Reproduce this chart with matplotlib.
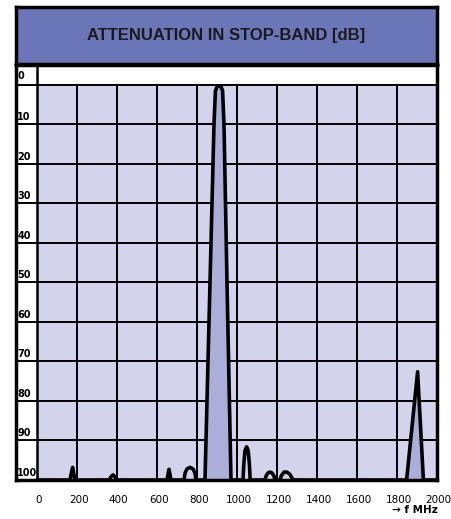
"""Attenuation in stop-band, hand-drawn style filter response"""
import numpy as np
import matplotlib
matplotlib.use("Agg")
import matplotlib.pyplot as plt

# frequency [MHz] and attenuation [dB]
freq = [0, 165, 172, 178, 184, 190,
        360, 370, 380, 390, 400,
        650, 655, 660, 665, 670,
        735, 740, 750, 765, 780, 790, 795,
        840, 865, 885, 892, 900, 910, 920, 928, 935, 950, 970,
        1030, 1034, 1040, 1048, 1056, 1062, 1066,
        1140, 1145, 1155, 1165, 1175, 1185, 1190,
        1215, 1222, 1235, 1250, 1265, 1280,
        1848, 1903, 1932, 2000]
atten = [100, 100, 98.2, 96.8, 98.5, 100,
         100, 99.2, 98.7, 99.2, 100,
         100, 98.6, 97.3, 98.6, 100,
         100, 98.3, 97.2, 96.8, 97.2, 98.3, 100,
         100, 50, 10, 1.5, 0.4, 0.2, 0.4, 1.5, 10, 50, 100,
         100, 96, 92.6, 91.6, 92.6, 96, 100,
         100, 99, 98.2, 98, 98.2, 99, 100,
         100, 98.9, 98, 98, 98.6, 100,
         100, 72.6, 100, 100]

y_ticks = [0, 10, 20, 30, 40, 50, 60, 70, 80, 90, 100]
x_ticks = [0, 200, 400, 600, 800, 1000, 1200, 1400, 1600, 1800, 2000]

light = "#d3d3eb"
dark = "#aaaed8"
band = "#6b76b9"

W, H = 452, 519
fig = plt.figure(figsize=(W / 100, H / 100), dpi=100)

# title band
tax = fig.add_axes([16 / W, (H - 64) / H, 421 / W, 57 / H])
tax.set_facecolor(band)
tax.set_xticks([])
tax.set_yticks([])
for s in tax.spines.values():
    s.set_linewidth(2.5)
tax.text(0.5, 0.5, "ATTENUATION IN STOP-BAND [dB]", ha="center", va="center",
         fontsize=12, fontweight="bold", family="Liberation Sans", color="#1a1a1a")

# main chart
ax = fig.add_axes([16 / W, (H - 480) / H, 421 / W, 415 / H])
ax.set_xlim(-105, 2000)
ax.set_ylim(100, -5.06)
ax.set_xticks([])
ax.set_yticks([])
ax.set_facecolor("white")
ax.axvspan(0, 2000, ymin=0, ymax=100 / 105.06, color=light, zorder=0)

for v in y_ticks[:-1]:
    ax.axhline(v, color="black", lw=1.4, zorder=1)
for f in x_ticks[1:-1]:
    ax.plot([f, f], [0, 100], color="black", lw=1.4, zorder=1)
ax.plot([0, 0], [-5.06, 100], color="black", lw=1.8, zorder=1)

f_arr = np.array(freq)
a_arr = np.array(atten)
mask = ((f_arr >= 840) & (f_arr <= 970)) | ((f_arr >= 1848) & (f_arr <= 1932))
ax.fill_between(f_arr, a_arr, 100, where=mask, color=dark, zorder=2)
ax.plot(f_arr, a_arr, color="black", lw=2.6, solid_joinstyle="round",
        solid_capstyle="round", zorder=3)

for s in ax.spines.values():
    s.set_linewidth(2.5)

for v in y_ticks:
    ax.text(-98, v - 0.6 if v else -1.0, str(v), ha="left", va="bottom",
            fontsize=7, fontweight="bold", zorder=4)

for f in x_ticks:
    ax.text(f + 8, -0.035, str(f), ha="center", va="top",
            transform=ax.get_xaxis_transform(), fontsize=7.5, zorder=4)

fig.text(392 / W, 1 - 510 / H, "\u2192 f MHz", ha="left", va="center",
         fontsize=7.5, fontweight="bold")

fig.savefig("out.png", dpi=100)
